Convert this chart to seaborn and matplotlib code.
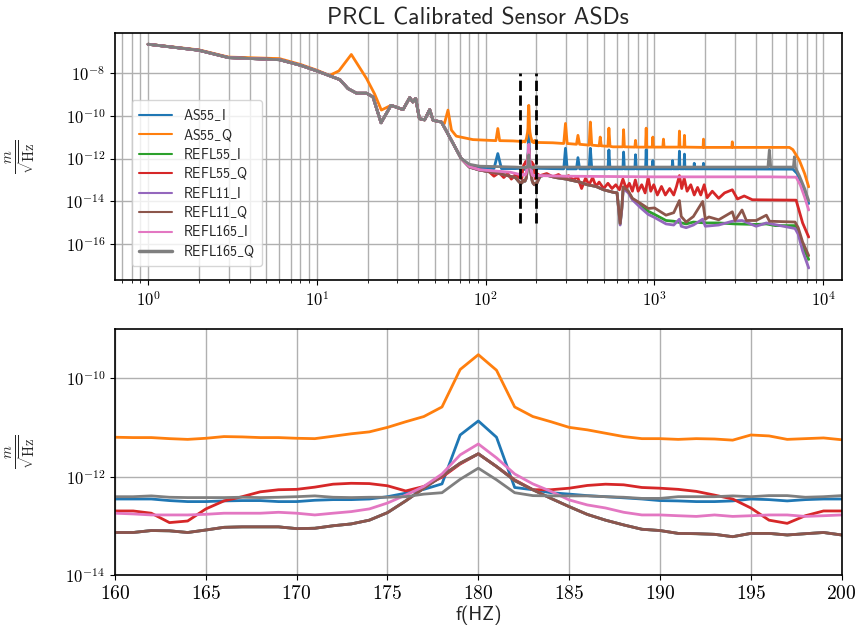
import numpy as np
import pandas as pd
import matplotlib
matplotlib.use('Agg')
import matplotlib.pyplot as plt
import seaborn as sns
from matplotlib.ticker import FuncFormatter, LogLocator, NullLocator, NullFormatter, MultipleLocator

channels = ['AS55_I', 'AS55_Q', 'REFL55_I', 'REFL55_Q', 'REFL11_I', 'REFL11_Q', 'REFL165_I', 'REFL165_Q']

# zoom window (dashed markers on the full-band plot)
zoom_lo, zoom_hi = 160, 200
marker_ymin, marker_ymax = 1e-15, 1e-8

# ---- 1 Hz resolution data, 160-200 Hz (bottom panel) ----
zoom_f = list(range(160, 201))
as55_i_zoom = [3.5e-13, 3.5e-13, 3.5e-13, 3.25e-13, 3.1e-13, 3.1e-13, 3.2e-13, 3.25e-13, 3.25e-13, 3.1e-13,
               3.1e-13, 3.3e-13, 3.4e-13, 3.4e-13, 3.5e-13, 3.9e-13, 4.6e-13, 5.5e-13, 7.1e-13, 7.0e-12,
               1.35e-11, 6.3e-12, 6.0e-13, 5.4e-13, 4.7e-13, 4.4e-13, 4.1e-13, 3.9e-13, 3.7e-13, 3.5e-13,
               3.25e-13, 3.2e-13, 3.1e-13, 3.1e-13, 3.2e-13, 3.5e-13, 3.4e-13, 3.2e-13, 3.4e-13, 3.5e-13, 3.5e-13]
as55_q_zoom = [6.3e-12, 6.2e-12, 6.2e-12, 5.9e-12, 5.7e-12, 6.0e-12, 6.5e-12, 6.4e-12, 6.2e-12, 6.2e-12,
               6.0e-12, 5.9e-12, 6.6e-12, 7.4e-12, 8.1e-12, 1.0e-11, 1.3e-11, 1.66e-11, 2.6e-11, 1.5e-10,
               3.0e-10, 1.45e-10, 2.6e-11, 1.66e-11, 1.3e-11, 1.0e-11, 8.9e-12, 7.6e-12, 6.5e-12, 5.9e-12,
               5.9e-12, 5.7e-12, 5.9e-12, 5.8e-12, 5.5e-12, 7.0e-12, 6.7e-12, 5.7e-12, 5.9e-12, 6.1e-12, 5.6e-12]
refl55_q_zoom = [2.0e-13, 2.0e-13, 1.8e-13, 1.16e-13, 1.25e-13, 2.2e-13, 3.2e-13, 3.9e-13, 4.9e-13, 5.4e-13,
                 5.5e-13, 6.1e-13, 7.0e-13, 7.3e-13, 7.2e-13, 6.5e-13, 5.1e-13, 6.3e-13, 9.7e-13, 1.8e-12,
                 2.9e-12, 1.6e-12, 8.6e-13, 5.4e-13, 5.4e-13, 5.8e-13, 6.6e-13, 7.0e-13, 6.8e-13, 6.0e-13,
                 5.8e-13, 5.5e-13, 5.0e-13, 4.2e-13, 3.5e-13, 2.3e-13, 1.3e-13, 1.12e-13, 1.6e-13, 2.0e-13, 2.0e-13]
refl11_q_zoom = [7.3e-14, 7.3e-14, 8.0e-14, 7.9e-14, 7.3e-14, 8.2e-14, 9.3e-14, 9.5e-14, 9.5e-14, 9.5e-14,
                 8.75e-14, 8.9e-14, 1.0e-13, 1.09e-13, 1.3e-13, 1.85e-13, 3.2e-13, 5.8e-13, 1.03e-12, 1.87e-12,
                 2.9e-12, 1.6e-12, 8.3e-13, 5.4e-13, 3.6e-13, 2.45e-13, 1.7e-13, 1.3e-13, 1.04e-13, 8.5e-14,
                 8.0e-14, 7.0e-14, 6.9e-14, 6.7e-14, 6.0e-14, 7.0e-14, 7.0e-14, 6.5e-14, 6.9e-14, 7.3e-14, 6.5e-14]
# REFL55_I and REFL11_I sit right under REFL11_Q in this band
refl55_i_zoom = list(refl11_q_zoom)
refl11_i_zoom = list(refl11_q_zoom)
refl165_i_zoom = [1.8e-13, 1.74e-13, 1.66e-13, 1.66e-13, 1.66e-13, 1.71e-13, 1.8e-13, 1.8e-13, 1.8e-13, 1.88e-13,
                  1.8e-13, 1.66e-13, 1.8e-13, 1.94e-13, 2.2e-13, 2.9e-13, 4.2e-13, 6.3e-13, 1.13e-12, 2.76e-12,
                  4.6e-12, 2.4e-12, 1.13e-12, 7.1e-13, 5.0e-13, 3.35e-13, 2.65e-13, 2.3e-13, 1.88e-13, 1.66e-13,
                  1.66e-13, 1.6e-13, 1.55e-13, 1.66e-13, 1.55e-13, 1.6e-13, 1.66e-13, 1.66e-13, 1.55e-13, 1.6e-13, 1.66e-13]
refl165_q_zoom = [3.9e-13, 3.9e-13, 4.05e-13, 3.8e-13, 3.74e-13, 3.74e-13, 3.74e-13, 3.8e-13, 3.74e-13, 3.8e-13,
                  3.9e-13, 4.05e-13, 3.8e-13, 3.74e-13, 3.8e-13, 3.8e-13, 3.9e-13, 4.4e-13, 4.7e-13, 8.8e-13,
                  1.48e-12, 8.6e-13, 4.7e-13, 4.1e-13, 4.05e-13, 4.05e-13, 4.05e-13, 3.9e-13, 3.8e-13, 3.6e-13,
                  3.6e-13, 3.9e-13, 3.9e-13, 3.9e-13, 4.05e-13, 3.9e-13, 4.1e-13, 4.1e-13, 3.8e-13, 3.9e-13, 4.1e-13]

# ---- full band, coarse points outside 160-200 Hz ----
# low frequency part shared by every channel except AS55_Q
common_f = [1, 2, 3, 6, 8, 10, 13.7, 15.3, 17.2, 19.7, 21.5, 24, 27.5, 32.4, 35.5, 37, 38.5, 40.5, 43.5,
            46.6, 48.8, 54.7, 62.7]
common_v = [2.1e-7, 1.1e-7, 5.0e-8, 4.0e-8, 2.2e-8, 1.2e-8, 4.7e-9, 1.8e-9, 1.1e-9, 1.1e-9, 7.4e-10, 4.6e-11,
            3.0e-10, 1.9e-10, 6.9e-10, 4.3e-10, 6.3e-10, 7.2e-11, 6.3e-11, 1.9e-10, 6.0e-11, 5.0e-11, 7.0e-12]

as55_q_f = [1, 2, 3, 6, 8, 10, 11.9, 13.5, 16.0, 19.7, 22, 24.1, 27.5, 32.4, 35.5, 37, 38.5, 40.5, 43.5,
            46.6, 48.8, 54.7, 57, 59.8, 62.7, 67, 84, 115, 118, 121, 145, 250, 290, 297, 304,
            345, 352, 360, 410, 417, 425, 470, 477, 484, 530, 537, 545, 567, 650, 656, 663,
            765, 772, 780, 885, 893, 900, 970, 978, 986, 1120, 1130, 1140, 1395, 1405, 1415,
            1495, 1505, 1515, 1940, 1950, 1960, 2870, 2890, 2910, 6300, 6600, 7210, 7750, 8192]
as55_q_v = [2.1e-7, 1.15e-7, 5.3e-8, 4.5e-8, 2.4e-8, 1.3e-8, 7.4e-9, 1.2e-8, 7.0e-8, 5.3e-9, 1.0e-9, 1.8e-10,
            3.0e-10, 1.9e-10, 6.9e-10, 4.3e-10, 6.3e-10, 7.2e-11, 6.3e-11, 1.9e-10, 6.0e-11, 5.0e-11, 4.3e-11,
            1.8e-10, 2.1e-11, 1.1e-11, 7.6e-12, 6.8e-12, 2.5e-11, 6.8e-12, 6.6e-12, 5.4e-12, 5.0e-12, 4.3e-11,
            5.0e-12, 4.6e-12, 1.2e-11, 4.6e-12, 4.2e-12, 5.0e-11, 4.2e-12, 3.9e-12, 1.0e-11, 3.9e-12, 3.7e-12,
            2.6e-11, 3.7e-12, 3.5e-12, 3.5e-12, 2.2e-11, 3.5e-12, 3.4e-12, 7.0e-12, 3.4e-12, 3.4e-12, 2.6e-11,
            3.4e-12, 3.4e-12, 1.0e-11, 3.4e-12, 3.4e-12, 8.0e-12, 3.4e-12, 3.4e-12, 1.9e-11, 3.4e-12, 3.4e-12,
            1.2e-11, 3.4e-12, 3.3e-12, 8.0e-12, 3.3e-12, 3.3e-12, 6.0e-12, 3.3e-12, 3.3e-12, 2.6e-12, 8.3e-13,
            2.0e-13, 4.8e-14]

as55_i_f = [71.6, 80, 92, 112, 118, 124, 150, 290, 297, 304, 345, 352, 360, 410, 417, 425, 530, 537, 545,
            650, 656, 663, 765, 772, 780, 885, 893, 900, 970, 978, 986, 1270, 1280, 1290, 1395, 1405, 1415,
            1495, 1505, 1515, 1710, 1720, 1730, 1940, 1950, 1960, 6600, 7000, 7500, 8192]
as55_i_v = [1.0e-12, 5.0e-13, 3.8e-13, 3.4e-13, 1.7e-12, 3.4e-13, 3.4e-13, 3.3e-13, 3.0e-12, 3.3e-13,
            3.3e-13, 1.1e-12, 3.3e-13, 3.3e-13, 3.0e-12, 3.3e-13, 3.3e-13, 2.5e-12, 3.3e-13, 3.3e-13,
            2.0e-12, 3.3e-13, 3.3e-13, 1.5e-12, 3.3e-13, 3.3e-13, 2.6e-12, 3.3e-13, 3.3e-13, 8.0e-13,
            3.3e-13, 3.3e-13, 8.0e-13, 3.3e-13, 3.3e-13, 2.2e-12, 3.3e-13, 3.3e-13, 1.6e-12, 3.3e-13,
            3.3e-13, 6.0e-13, 3.3e-13, 3.3e-13, 6.0e-13, 3.3e-13, 3.2e-13, 2.0e-13, 5.0e-14, 8.0e-15]

refl55_q_f = [71.6, 80, 92, 105, 112, 120, 128, 135, 142, 150, 156,
              210, 230, 250, 270, 290, 310, 330, 350, 370, 390,
              410, 430, 450, 470, 500, 530, 560, 590, 620, 650,
              680, 710, 740, 770, 800, 840, 880, 918, 950, 990,
              1040, 1100, 1160, 1230, 1300, 1350, 1405, 1450, 1500, 1560,
              1640, 1720, 1800, 1880, 1970, 2050, 2200, 2400, 2600, 2890,
              3100, 3400, 3800, 6900, 7540, 8192]
refl55_q_v = [1.0e-12, 4.2e-13, 3.0e-13, 2.4e-13, 1.5e-13, 2.2e-13, 1.3e-13, 2.0e-13, 1.1e-13, 1.8e-13, 1.3e-13,
              1.6e-13, 2.0e-13, 1.4e-13, 1.8e-13, 1.2e-13, 1.6e-13, 1.0e-13, 1.4e-13, 4.0e-14, 1.2e-13,
              6.0e-14, 1.3e-13, 5.0e-14, 8.0e-14, 4.0e-14, 7.0e-14, 4.0e-14, 6.0e-14, 3.5e-14, 1.1e-13,
              4.0e-14, 7.0e-14, 3.0e-14, 1.0e-13, 3.0e-14, 6.0e-14, 2.5e-14, 1.3e-13, 3.0e-14, 6.0e-14,
              2.0e-14, 5.0e-14, 2.0e-14, 4.0e-14, 2.0e-14, 5.0e-14, 1.6e-13, 4.0e-14, 1.2e-13, 3.0e-14,
              6.0e-14, 2.0e-14, 4.5e-14, 2.0e-14, 6.0e-14, 1.5e-14, 3.0e-14, 1.4e-14, 2.5e-14, 3.5e-14,
              1.3e-14, 1.8e-14, 1.2e-14, 1.15e-14, 1.0e-15, 2.2e-16]

# 70-600 Hz, shared by REFL55_I, REFL11_I and REFL11_Q (they overlap there)
quiet_f = [71.6, 80, 92, 120, 150, 156, 210, 228, 260, 300, 360, 400, 450, 500, 567, 600]
quiet_v = [1.0e-12, 4.0e-13, 2.9e-13, 2.0e-13, 1.3e-13, 9.0e-14, 1.5e-13, 1.7e-13, 1.3e-13, 1.1e-13,
           8.0e-14, 6.0e-14, 5.0e-14, 3.5e-14, 2.7e-14, 2.5e-14]

refl11_q_f = [626, 640, 653, 700, 740, 830, 918, 1000, 1170, 1300, 1405, 1440, 1540, 1700, 1930, 2000,
              2100, 2400, 2890, 3000, 3300, 3500, 4000, 4600, 4800, 6800, 7100, 7540, 8192]
refl11_q_v = [9.5e-16, 5.0e-15, 4.8e-14, 3.0e-14, 1.4e-14, 8.0e-15, 4.7e-15, 5.0e-15, 2.3e-15, 3.0e-15,
              1.1e-14, 2.0e-15, 1.1e-15, 2.0e-15, 1.0e-14, 1.5e-15, 1.9e-15, 1.4e-15, 3.3e-15, 1.3e-15,
              4.0e-15, 1.3e-15, 1.3e-15, 2.3e-15, 1.2e-15, 1.1e-15, 6.0e-16, 1.3e-16, 3.0e-17]
refl11_i_f = [626, 640, 653, 700, 740, 830, 918, 1000, 1170, 1300, 1405, 1440, 1540, 1700, 1930, 2000,
              2400, 2890, 3300, 4000, 4600, 6800, 7100, 7540, 8192]
refl11_i_v = [8.0e-16, 4.0e-15, 4.0e-14, 2.5e-14, 1.2e-14, 5.0e-15, 2.5e-15, 1.8e-15, 9.0e-16, 8.0e-16,
              1.5e-15, 7.0e-16, 6.0e-16, 8.0e-16, 1.5e-15, 7.0e-16, 8.0e-16, 1.2e-15, 1.3e-15, 7.0e-16,
              1.0e-15, 5.5e-16, 3.0e-16, 5.0e-17, 8.0e-18]
refl55_i_f = [626, 640, 653, 700, 740, 830, 918, 1000, 1170, 1300, 1540, 1700, 2000, 2400, 3000, 4000,
              4600, 5200, 6800, 7100, 7540, 8192]
refl55_i_v = [9.0e-16, 4.5e-15, 4.5e-14, 2.8e-14, 1.3e-14, 6.0e-15, 3.5e-15, 2.5e-15, 1.3e-15, 1.2e-15,
              9.0e-16, 1.1e-15, 1.0e-15, 1.0e-15, 9.0e-16, 8.5e-16, 9.0e-16, 7.5e-16, 7.5e-16, 4.0e-16,
              8.0e-17, 2.0e-17]

refl165_i_f = [71.6, 80, 92, 115, 140, 155, 210, 300, 1000, 4790, 6900, 7300, 7750, 8192]
refl165_i_v = [1.0e-12, 4.2e-13, 3.0e-13, 2.6e-13, 2.3e-13, 1.9e-13, 1.6e-13, 1.5e-13, 1.4e-13, 1.4e-13,
               1.35e-13, 6.0e-14, 1.6e-14, 4.0e-15]
refl165_q_f = [71.6, 80, 92, 150, 210, 1000, 4700, 4790, 4880, 6650, 6740, 6830, 7210, 7750, 8192]
refl165_q_v = [1.0e-12, 5.4e-13, 4.4e-13, 4.0e-13, 4.0e-13, 4.0e-13, 4.0e-13, 2.5e-12, 4.0e-13, 4.0e-13,
               1.2e-12, 3.8e-13, 1.6e-13, 4.0e-14, 1.1e-14]

full_parts = {
    'AS55_I': [(common_f, common_v), (as55_i_f, as55_i_v), (zoom_f, as55_i_zoom)],
    'AS55_Q': [(as55_q_f, as55_q_v), (zoom_f, as55_q_zoom)],
    'REFL55_I': [(common_f, common_v), (quiet_f, quiet_v), (refl55_i_f, refl55_i_v), (zoom_f, refl55_i_zoom)],
    'REFL55_Q': [(common_f, common_v), (refl55_q_f, refl55_q_v), (zoom_f, refl55_q_zoom)],
    'REFL11_I': [(common_f, common_v), (quiet_f, quiet_v), (refl11_i_f, refl11_i_v), (zoom_f, refl11_i_zoom)],
    'REFL11_Q': [(common_f, common_v), (quiet_f, quiet_v), (refl11_q_f, refl11_q_v), (zoom_f, refl11_q_zoom)],
    'REFL165_I': [(common_f, common_v), (refl165_i_f, refl165_i_v), (zoom_f, refl165_i_zoom)],
    'REFL165_Q': [(common_f, common_v), (refl165_q_f, refl165_q_v), (zoom_f, refl165_q_zoom)],
}
zoom_parts = {
    'AS55_I': as55_i_zoom, 'AS55_Q': as55_q_zoom, 'REFL55_I': refl55_i_zoom, 'REFL55_Q': refl55_q_zoom,
    'REFL11_I': refl11_i_zoom, 'REFL11_Q': refl11_q_zoom, 'REFL165_I': refl165_i_zoom, 'REFL165_Q': refl165_q_zoom,
}

frames = []
for ch in channels:
    for pf, pv in full_parts[ch]:
        frames.append(pd.DataFrame({'f': pf, 'asd': pv, 'channel': ch}))
df_full = pd.concat(frames, ignore_index=True)
df_zoom = pd.concat([pd.DataFrame({'f': zoom_f, 'asd': zoom_parts[ch], 'channel': ch}) for ch in channels],
                    ignore_index=True)

# ---- style ----
sns.set_style('ticks')
plt.rcParams['font.family'] = ['cmss10', 'DejaVu Sans']
plt.rcParams['mathtext.fontset'] = 'cm'
plt.rcParams['mathtext.default'] = 'rm'
plt.rcParams['axes.edgecolor'] = 'black'
plt.rcParams['axes.linewidth'] = 1.2
plt.rcParams['xtick.color'] = 'black'
plt.rcParams['ytick.color'] = 'black'

palette = dict(zip(channels, sns.color_palette('tab10', 8)))


def pow10(v, pos):
    return r'$10^{%d}$' % int(round(np.log10(v)))


def plain(v, pos):
    return r'$%d$' % int(round(v))


def tex_label(name):
    # cmss10 has no real underscore glyph, so typeset it as math
    return name.replace('_', r'$\_$')


ylab = r'$\frac{\mathit{m}}{\sqrt{\mathrm{Hz}}}$'

fig = plt.figure(figsize=(8.58, 6.4), dpi=100)
ax1 = fig.add_axes([0.134, 0.5625, 0.847, 0.3855])
ax2 = fig.add_axes([0.134, 0.1016, 0.847, 0.3844])

# full band
ax1.set_xscale('log')
ax1.set_yscale('log')
sns.lineplot(data=df_full, x='f', y='asd', hue='channel', hue_order=channels, palette=palette,
             estimator=None, sort=True, lw=2, legend=False, ax=ax1)
ax1.vlines([zoom_lo, zoom_hi], marker_ymin, marker_ymax, colors='black', linestyles='--', lw=2, zorder=5)
ax1.set_xlim(0.637, 12850)
ax1.set_ylim(2.2e-18, 6.8e-7)
ax1.yaxis.set_major_locator(LogLocator(base=100))
ax1.yaxis.set_minor_locator(NullLocator())
ax1.xaxis.set_major_formatter(FuncFormatter(pow10))
ax1.xaxis.set_minor_formatter(NullFormatter())
ax1.yaxis.set_major_formatter(FuncFormatter(pow10))
ax1.grid(True, which='major', color='#b0b0b0', lw=1)
ax1.grid(True, which='minor', axis='x', color='#b0b0b0', lw=1)
ax1.set_xlabel('')
ax1.set_ylabel(ylab, fontsize=15, labelpad=20)
ax1.set_title('PRCL Calibrated Sensor ASDs', fontsize=17)
ax1.tick_params(labelsize=12)

handles = ax1.get_lines()[:len(channels)]
leg = ax1.legend(handles, [tex_label(c) for c in channels], loc='lower left', bbox_to_anchor=(0.023, 0.057),
                 borderaxespad=0, fontsize=10, labelspacing=0.25, borderpad=0.5, handlelength=2.4,
                 frameon=True, framealpha=0.8, edgecolor='0.8', fancybox=True)
for i, h in enumerate(leg.get_lines()):
    h.set_linewidth(2.5 if i == len(channels) - 1 else 1.5)

# zoom on the 180 Hz line
ax2.set_yscale('log')
sns.lineplot(data=df_zoom, x='f', y='asd', hue='channel', hue_order=channels, palette=palette,
             estimator=None, sort=True, lw=2, legend=False, ax=ax2)
ax2.set_xlim(zoom_lo, zoom_hi)
ax2.set_ylim(1e-14, 1e-9)
ax2.xaxis.set_major_locator(MultipleLocator(5))
ax2.xaxis.set_major_formatter(FuncFormatter(plain))
ax2.yaxis.set_major_locator(LogLocator(base=100))
ax2.yaxis.set_minor_locator(NullLocator())
ax2.yaxis.set_major_formatter(FuncFormatter(pow10))
ax2.grid(True, which='major', color='#b0b0b0', lw=1)
ax2.set_xlabel('f(HZ)', fontsize=14, labelpad=2)
ax2.set_ylabel(ylab, fontsize=15, labelpad=20)
ax2.tick_params(axis='x', labelsize=14)
ax2.tick_params(axis='y', labelsize=12)

fig.savefig('out.png', dpi=100)
